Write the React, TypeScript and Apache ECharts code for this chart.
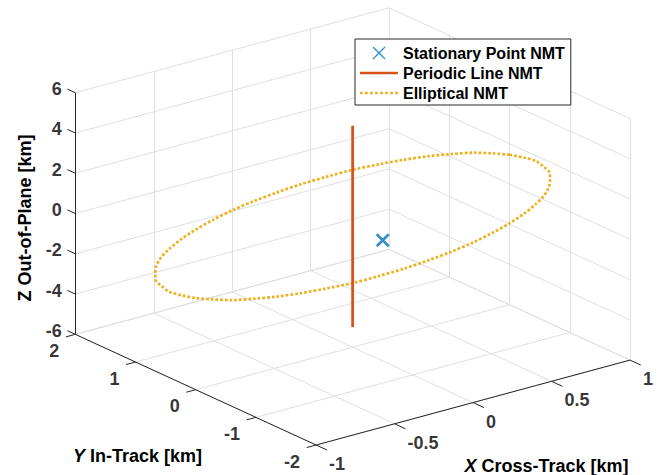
import React, { useEffect, useRef } from "react";
import * as echarts from "echarts";

// ---- axis limits and ticks ----
const X_LIM = [-1, 1];
const Y_LIM = [-2, 2];
const Z_LIM = [-6, 6];
const X_TICKS = [-1, -0.5, 0, 0.5, 1];
const Y_TICKS = [-2, -1, 0, 1, 2];
const Z_TICKS = [-6, -4, -2, 0, 2, 4, 6];
const X_TICK_LABELS = ["-1", "-0.5", "0", "0.5", "1"];
const Y_TICK_LABELS = ["-2", "-1", "0", "1", "2"];
const Z_TICK_LABELS = ["-6", "-4", "-2", "0", "2", "4", "6"];

// ---- series data (X cross-track, Y in-track, Z out-of-plane, km) ----
const STATIONARY_X = [0];
const STATIONARY_Y = [-0.5];
const STATIONARY_Z = [0];

const PERIODIC_X = [0, 0];
const PERIODIC_Y = [0, 0];
const PERIODIC_Z = [-5, 5];

const ELLIPSE_X = [
  1, 0.99, 0.97, 0.92, 0.87, 0.79, 0.71, 0.61, 0.5, 0.38, 0.26, 0.13,
  0, -0.13, -0.26, -0.38, -0.5, -0.61, -0.71, -0.79, -0.87, -0.92, -0.97, -0.99,
  -1, -0.99, -0.97, -0.92, -0.87, -0.79, -0.71, -0.61, -0.5, -0.38, -0.26, -0.13,
  0, 0.13, 0.26, 0.38, 0.5, 0.61, 0.71, 0.79, 0.87, 0.92, 0.97, 0.99, 1,
];
const ELLIPSE_Y = [
  0, 0.26, 0.52, 0.77, 1, 1.22, 1.41, 1.59, 1.73, 1.85, 1.93, 1.98,
  2, 1.98, 1.93, 1.85, 1.73, 1.59, 1.41, 1.22, 1, 0.77, 0.52, 0.26,
  0, -0.26, -0.52, -0.77, -1, -1.22, -1.41, -1.59, -1.73, -1.85, -1.93, -1.98,
  -2, -1.98, -1.93, -1.85, -1.73, -1.59, -1.41, -1.22, -1, -0.77, -0.52, -0.26, 0,
];
const ELLIPSE_Z = [
  1.45, 1.18, 0.9, 0.59, 0.28, -0.04, -0.35, -0.66, -0.96, -1.25, -1.51, -1.74,
  -1.95, -2.12, -2.26, -2.36, -2.41, -2.43, -2.4, -2.34, -2.23, -2.09, -1.91, -1.69,
  -1.45, -1.18, -0.9, -0.59, -0.28, 0.04, 0.35, 0.66, 0.96, 1.25, 1.51, 1.74,
  1.95, 2.12, 2.26, 2.36, 2.41, 2.43, 2.4, 2.34, 2.23, 2.09, 1.91, 1.69, 1.45,
];

const SERIES_NAMES = ["Stationary Point NMT", "Periodic Line NMT", "Elliptical NMT"];

// ---- view (MATLAB default 3-D view) ----
const VIEW_AZ = -37.5;
const VIEW_EL = 30;
const VIEW_X = [-0.8914, 0.7795];
const VIEW_Y = [-0.891, 0.8115];

const FONT = '"Liberation Sans", Arial, Helvetica, sans-serif';
const X_PATH = "path://M0,0L10,10M10,0L0,10";
const SOLID_ICON = "path://M0,0h38v2.5h-38z";
const DOTTED_ICON =
  "path://" +
  Array.from({ length: 8 }, (_, i) => `M${(i * 4.8).toFixed(1)},0h2.6v2.5h-2.6z`).join("");

function project(x: number, y: number, z: number): [number, number] {
  const nx = (x - (X_LIM[0] + X_LIM[1]) / 2) / (X_LIM[1] - X_LIM[0]);
  const ny = (y - (Y_LIM[0] + Y_LIM[1]) / 2) / (Y_LIM[1] - Y_LIM[0]);
  const nz = (z - (Z_LIM[0] + Z_LIM[1]) / 2) / (Z_LIM[1] - Z_LIM[0]);
  const a = (VIEW_AZ * Math.PI) / 180;
  const e = (VIEW_EL * Math.PI) / 180;
  const sx = Math.cos(a) * nx + Math.sin(a) * ny;
  const sy = -Math.sin(e) * Math.sin(a) * nx + Math.sin(e) * Math.cos(a) * ny + Math.cos(e) * nz;
  return [sx, sy];
}

function seg(p: number[], q: number[]) {
  return { coords: [project(p[0], p[1], p[2]), project(q[0], q[1], q[2])] };
}

function buildOption() {
  const [x0, x1] = X_LIM;
  const [y0, y1] = Y_LIM;
  const [z0, z1] = Z_LIM;
  const xr = x1 - x0;
  const yr = y1 - y0;

  const gridSegs: any[] = [];
  X_TICKS.forEach((t) => {
    gridSegs.push(seg([t, y0, z0], [t, y1, z0]));
    gridSegs.push(seg([t, y1, z0], [t, y1, z1]));
  });
  Y_TICKS.forEach((t) => {
    gridSegs.push(seg([x0, t, z0], [x1, t, z0]));
    gridSegs.push(seg([x1, t, z0], [x1, t, z1]));
  });
  Z_TICKS.forEach((t) => {
    gridSegs.push(seg([x0, y1, t], [x1, y1, t]));
    gridSegs.push(seg([x1, y0, t], [x1, y1, t]));
  });

  const axisSegs: any[] = [];
  axisSegs.push(seg([x0, y0, z0], [x1, y0, z0]));
  axisSegs.push(seg([x0, y0, z0], [x0, y1, z0]));
  axisSegs.push(seg([x0, y1, z0], [x0, y1, z1]));
  X_TICKS.forEach((t) => axisSegs.push(seg([t, y0, z0], [t, y0 - 0.045 * yr, z0])));
  Y_TICKS.forEach((t) => axisSegs.push(seg([x0, t, z0], [x0 - 0.03 * xr, t, z0])));
  Z_TICKS.forEach((t) => axisSegs.push(seg([x0, y1, t], [x0, y1 + 0.033 * yr, t])));

  const tickFont = { fontSize: 18, fontWeight: "bold", fontFamily: FONT, color: "#000" };

  const tickSeries = (pts: [number, number][], labels: string[], align: string, offset: number[]) => ({
    type: "scatter",
    data: pts.map((p, i) => ({ value: p, label: { formatter: labels[i] } })),
    symbolSize: 0,
    itemStyle: { color: "rgba(0,0,0,0)" },
    silent: true,
    z: 6,
    label: { show: true, position: "inside", align, verticalAlign: "middle", offset, ...tickFont },
  });

  return {
    animation: false,
    grid: { left: 0, right: 0, top: 0, bottom: 0 },
    xAxis: { type: "value", min: VIEW_X[0], max: VIEW_X[1], show: false },
    yAxis: { type: "value", min: VIEW_Y[0], max: VIEW_Y[1], show: false },
    legend: {
      data: [
        { name: SERIES_NAMES[0], icon: X_PATH, itemStyle: { color: "none", borderColor: "#0072BD", borderWidth: 1.4 } },
        { name: SERIES_NAMES[1], icon: SOLID_ICON, itemStyle: { color: "#D95319", borderWidth: 0 } },
        { name: SERIES_NAMES[2], icon: DOTTED_ICON, itemStyle: { color: "#EDB120", borderWidth: 0 } },
      ],
      orient: "vertical",
      left: 355,
      top: 39,
      padding: [5, 6, 3, 5],
      itemWidth: 38,
      itemHeight: 12,
      itemGap: 2,
      symbolKeepAspect: true,
      borderColor: "#262626",
      borderWidth: 1,
      backgroundColor: "#ffffff",
      selectedMode: false,
      textStyle: { fontSize: 16, fontWeight: "bold", fontFamily: FONT, color: "#000", lineHeight: 18 },
    },
    graphic: [
      {
        type: "text",
        x: 25,
        y: 218,
        rotation: Math.PI / 2,
        style: { text: "Z Out-of-Plane [km]", fontSize: 18, fontWeight: "bold", fontFamily: FONT, fill: "#000", align: "center", verticalAlign: "middle" },
      },
      {
        type: "text",
        x: 137.5,
        y: 456,
        style: {
          text: "{i|Y} In-Track [km]",
          fontSize: 18, fontWeight: "bold", fontFamily: FONT, fill: "#000", align: "center", verticalAlign: "middle",
          rich: { i: { fontStyle: "italic", fontSize: 18, fontWeight: "bold", fontFamily: FONT, fill: "#000" } },
        },
      },
      {
        type: "text",
        x: 546.5,
        y: 466,
        style: {
          text: "{i|X} Cross-Track [km]",
          fontSize: 18, fontWeight: "bold", fontFamily: FONT, fill: "#000", align: "center", verticalAlign: "middle",
          rich: { i: { fontStyle: "italic", fontSize: 18, fontWeight: "bold", fontFamily: FONT, fill: "#000" } },
        },
      },
    ],
    series: [
      {
        type: "lines",
        coordinateSystem: "cartesian2d",
        data: gridSegs,
        silent: true,
        z: 1,
        lineStyle: { color: "#dfdfdf", width: 1, opacity: 1, curveness: 0 },
      },
      {
        type: "lines",
        coordinateSystem: "cartesian2d",
        data: axisSegs,
        silent: true,
        z: 2,
        lineStyle: { color: "#262626", width: 1, opacity: 1, curveness: 0 },
      },
      {
        name: SERIES_NAMES[2],
        type: "line",
        data: ELLIPSE_X.map((x, i) => project(x, ELLIPSE_Y[i], ELLIPSE_Z[i])),
        smooth: 0.3,
        symbol: "none",
        z: 3,
        itemStyle: { color: "#EDB120" },
        lineStyle: { color: "#EDB120", width: 2.7, type: [2.7, 2.0], cap: "butt" },
      },
      {
        name: SERIES_NAMES[1],
        type: "line",
        data: PERIODIC_X.map((x, i) => project(x, PERIODIC_Y[i], PERIODIC_Z[i])),
        symbol: "none",
        z: 4,
        itemStyle: { color: "#D95319" },
        lineStyle: { color: "#D95319", width: 2.8 },
      },
      {
        name: SERIES_NAMES[0],
        type: "scatter",
        data: STATIONARY_X.map((x, i) => project(x, STATIONARY_Y[i], STATIONARY_Z[i])),
        symbol: X_PATH,
        symbolSize: 12,
        z: 5,
        itemStyle: { color: "none", borderColor: "#0072BD", borderWidth: 2.6 },
      },
      tickSeries(Z_TICKS.map((t) => project(x0, y1, t)), Z_TICK_LABELS, "right", [-13.5, -3.5]),
      tickSeries(Y_TICKS.map((t) => project(x0, t, z0)), Y_TICK_LABELS, "right", [-16, 16.5]),
      tickSeries(X_TICKS.map((t) => project(t, y0, z0)), X_TICK_LABELS, "left", [13, 19]),
    ],
  };
}

export default function App() {
  const ref = useRef<HTMLDivElement>(null);
  useEffect(() => {
    if (!ref.current) return;
    const chart = echarts.init(ref.current, undefined, { renderer: "svg" });
    chart.setOption(buildOption() as any);
    return () => chart.dispose();
  }, []);
  return (
    <div
      ref={ref}
      style={{ position: "fixed", left: 0, top: 0, width: 661, height: 475, background: "#fff" }}
    />
  );
}
